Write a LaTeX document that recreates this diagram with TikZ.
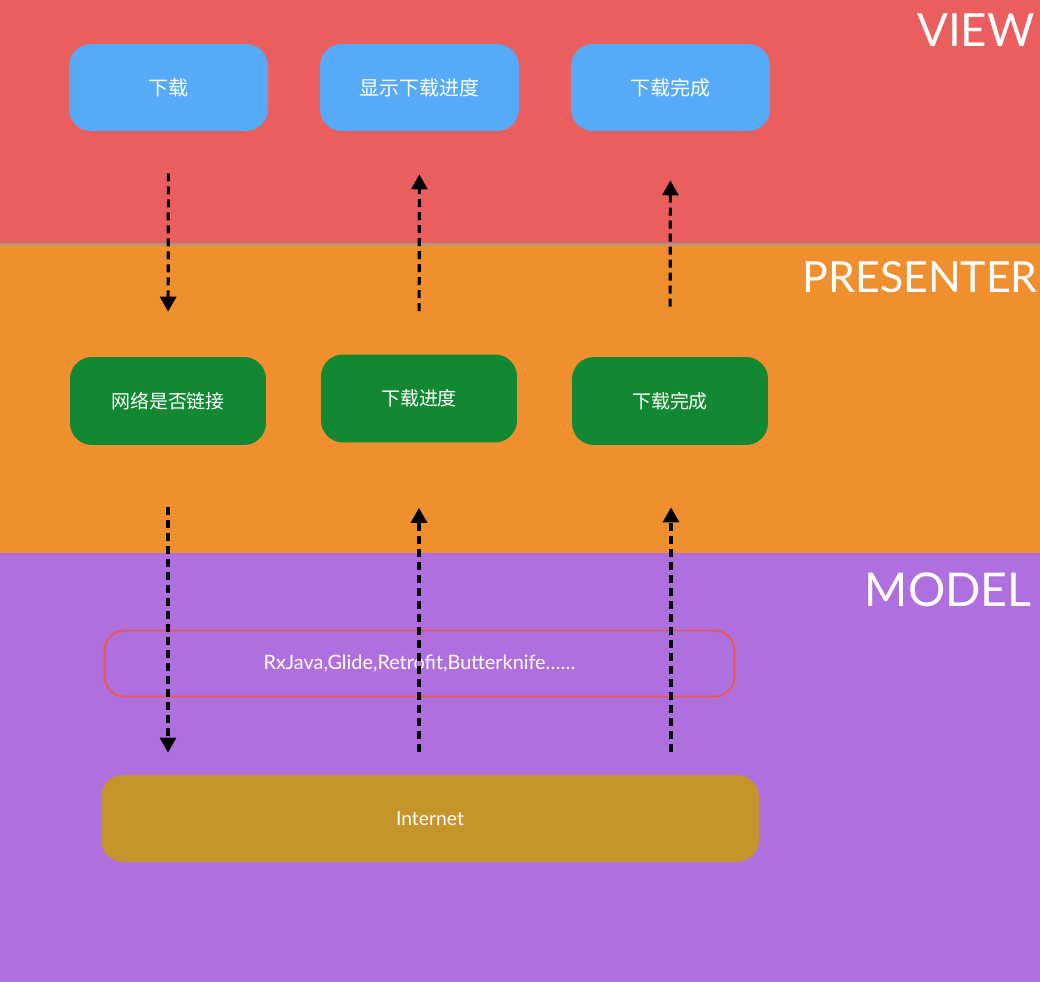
\documentclass[tikz,border=0pt]{standalone}
\usepackage{fontspec}
\setmainfont{Lato}
\newfontfamily\cjk{Noto Sans CJK SC}
\usetikzlibrary{arrows.meta}
\definecolor{viewred}{HTML}{EA5F5D}
\definecolor{presorange}{HTML}{F08F2E}
\definecolor{modelpurple}{HTML}{B06FDF}
\definecolor{viewblue}{HTML}{56AAF7}
\definecolor{presgreen}{HTML}{128832}
\definecolor{netolive}{HTML}{C4952A}
\definecolor{libred}{HTML}{E8584E}
\tikzset{
	viewbox/.style={fill=viewblue,rounded corners=0.44cm,minimum width=3.98cm,minimum height=1.74cm,inner sep=0pt,text=white,font=\cjk\fontsize{11.4}{14}\selectfont},
	presbox/.style={fill=presgreen,rounded corners=0.44cm,minimum width=3.92cm,minimum height=1.76cm,inner sep=0pt,text=white,font=\cjk\fontsize{10.8}{13}\selectfont},
	layername/.style={anchor=north east,inner sep=0pt,text=white,font=\fontsize{26}{30}\selectfont},
	flow/.style={dash pattern=on 4.6pt off 2.8pt,line width=1.8pt,-{Triangle[length=8.5pt,width=9pt]}}
}

\begin{document}
\begin{tikzpicture}[x=0.02cm,y=-0.02cm]
	%
	% Cadre
	\useasboundingbox (0,0) rectangle (1040,982);
	%
	% Couches
	\fill[viewred] (0,0) rectangle (1040,244);
	\fill[presorange] (0,244) rectangle (1040,553);
	\fill[modelpurple] (0,553) rectangle (1040,982);
	\draw[line width=1.1pt,draw=black!40] (0,244) -- (1040,244);
	\node[layername] (lview) at (1035,13) {VIEW};
	\node[layername,font=\fontsize{24.4}{28}\selectfont] (lpres) at (1038,261) {PRESENTER};
	\node[layername,font=\fontsize{26.5}{30}\selectfont] (lmodel) at (1032,572) {MODEL};
	%
	% Vue
	\node[viewbox] (v1) at (168.5,87.5) {下载};
	\node[viewbox] (v2) at (419.5,87.5) {显示下载进度};
	\node[viewbox] (v3) at (670.5,87.5) {下载完成};
	%
	% Presenter
	\node[presbox] (g1) at (168,401) {网络是否链接};
	\node[presbox] (g2) at (419,398.5) {下载进度};
	\node[presbox] (g3) at (670,401) {下载完成};
	%
	% Modele
	\node[draw=libred,line width=1.1pt,rounded corners=0.4cm,minimum width=12.6cm,minimum height=1.32cm,inner sep=0pt,text=white,font=\fontsize{11.3}{13}\selectfont] (libs) at (419.5,663.5) {RxJava,Glide,Retrofit,Butterknife……};
	\node[fill=netolive,rounded corners=0.44cm,minimum width=13.16cm,minimum height=1.74cm,inner sep=0pt,text=white,font=\fontsize{11}{13}\selectfont] (net) at (430,818.5) {Internet};
	%
	% Fleches
	\draw[flow,shorten <=0.84cm,shorten >=0.9cm] (v1.south) -- (g1.north);
	\draw[flow,shorten <=0.86cm,shorten >=0.86cm] (g2.north) -- (v2.south);
	\draw[flow,shorten <=1cm,shorten >=0.98cm] (g3.north) -- (v3.south);
	\draw[flow,shorten <=1.24cm,shorten >=0.44cm] (g1.south) -- (g1.south |- net.north);
	\draw[flow,shorten <=0.46cm,shorten >=1.3cm] (g2.south |- net.north) -- (g2.south);
	\draw[flow,shorten <=0.46cm,shorten >=1.24cm] ([xshift=0.02cm]g3.south |- net.north) -- ([xshift=0.02cm]g3.south);
\end{tikzpicture}
\end{document}
